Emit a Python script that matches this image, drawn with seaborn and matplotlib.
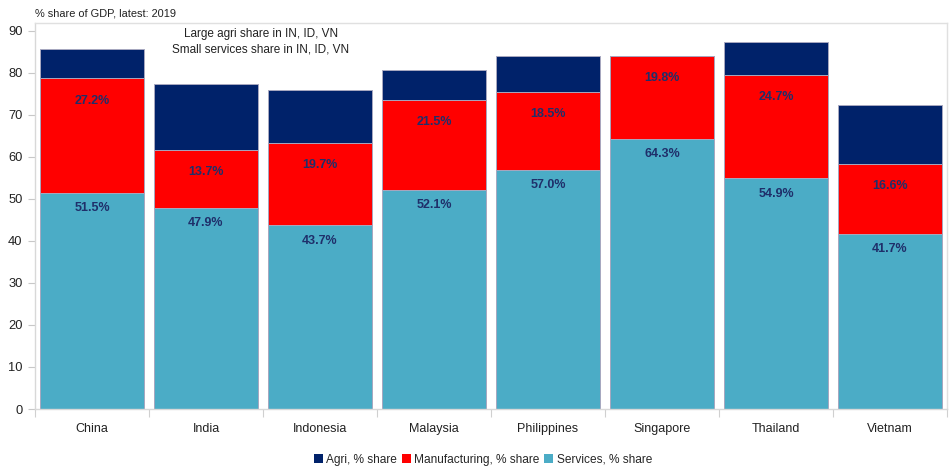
import matplotlib
matplotlib.use("Agg")
import matplotlib.pyplot as plt
from matplotlib.patches import Patch
from matplotlib.ticker import FixedLocator
import seaborn as sns
import pandas as pd

countries = ["China", "India", "Indonesia", "Malaysia", "Philippines", "Singapore", "Thailand", "Vietnam"]
services = [51.5, 47.9, 43.7, 52.1, 57.0, 64.3, 54.9, 41.7]
manufacturing = [27.2, 13.7, 19.7, 21.5, 18.5, 19.8, 24.7, 16.6]
agri = [6.9, 15.7, 12.6, 7.1, 8.6, 0.0, 7.7, 14.0]

C_AGRI = "#00226A"
C_MANU = "#FF0000"
C_SERV = "#4BACC6"
C_LABEL = "#1F2F6A"
EDGE = "#A8A8C0"

sns.set_theme(style="white")
plt.rcParams["font.family"] = ["Liberation Sans", "DejaVu Sans"]

df = pd.DataFrame({"country": countries, "services": services,
                   "manufacturing": manufacturing, "agri": agri})
df["top_manu"] = df["services"] + df["manufacturing"]
df["top_agri"] = df["top_manu"] + df["agri"]

fig = plt.figure(figsize=(9.52, 4.70), dpi=100)
ax = fig.add_axes([35 / 952, 1 - 409 / 470, (947 - 35) / 952, (409 - 23) / 470])

# stacked bars drawn as overlapping cumulative totals
for col, color in [("top_agri", C_AGRI), ("top_manu", C_MANU), ("services", C_SERV)]:
    sns.barplot(data=df, x="country", y=col, color=color, width=0.91,
                edgecolor=EDGE, linewidth=0.7, saturation=1, ax=ax)

# value labels just below the top of each segment
for i, row in df.iterrows():
    ax.annotate(f"{row['services']:.1f}%", (i, row["services"]), xytext=(0, -11),
                textcoords="offset points", ha="center", va="center",
                fontsize=9, fontweight="bold", color=C_LABEL)
    ax.annotate(f"{row['manufacturing']:.1f}%", (i, row["top_manu"]), xytext=(0, -16),
                textcoords="offset points", ha="center", va="center",
                fontsize=9, fontweight="bold", color=C_LABEL)

ax.set_xlim(-0.5, len(countries) - 0.5)
ax.set_ylim(0, 91.9)
ax.set_yticks(range(0, 91, 10))
ax.set_xlabel("")
ax.set_ylabel("")

for s in ax.spines.values():
    s.set_color("#E0E0E0")
    s.set_linewidth(1.0)
ax.spines["left"].set_color("#D8D8D8")
ax.spines["bottom"].set_color("#D8D8D8")

ax.tick_params(axis="y", which="major", left=True, length=5, width=0.8,
               color="#C8C8C8", labelsize=9.3, labelcolor="#222222", pad=4)
ax.tick_params(axis="x", which="major", bottom=False, length=0,
               labelsize=9, labelcolor="#222222", pad=10)
ax.xaxis.set_minor_locator(FixedLocator([i - 0.5 for i in range(len(countries) + 1)]))
ax.tick_params(axis="x", which="minor", bottom=True, length=6, width=0.8, color="#D0D0D0")

fig.text(35 / 952, 1 - 13 / 470, "% share of GDP, latest: 2019", ha="left", va="center",
         fontsize=7.9, color="#222222")
fig.text(261 / 952, 1 - 34 / 470, "Large agri share in IN, ID, VN", ha="center", va="center",
         fontsize=8.5, color="#222222")
fig.text(261 / 952, 1 - 50 / 470, "Small services share in IN, ID, VN", ha="center", va="center",
         fontsize=8.5, color="#222222")

handles = [Patch(facecolor=C_AGRI, edgecolor="none", label="Agri, % share"),
           Patch(facecolor=C_MANU, edgecolor="none", label="Manufacturing, % share"),
           Patch(facecolor=C_SERV, edgecolor="none", label="Services, % share")]
fig.legend(handles=handles, loc="center", bbox_to_anchor=(483 / 952, 1 - 460 / 470),
           ncol=3, frameon=False, fontsize=8.6, handlelength=0.75, handleheight=0.75,
           handletextpad=0.3, columnspacing=0.4, borderaxespad=0)

fig.savefig("out.png", dpi=100)
